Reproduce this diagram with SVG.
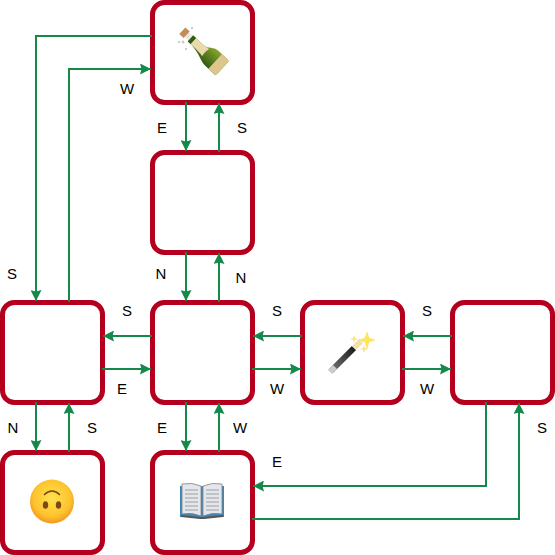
<svg xmlns="http://www.w3.org/2000/svg" width="555" height="555" viewBox="0 0 555 555">
<defs>
<marker id="arr" markerUnits="userSpaceOnUse" markerWidth="12" markerHeight="11" refX="11" refY="5.500" orient="auto" viewBox="0 0 12 11"><path d="M0 0L11 5.500L0 11L1.500 5.500Z" fill="#15884a"/></marker>
<radialGradient id="face" cx="0.5" cy="0.42" r="0.6"><stop offset="0" stop-color="#ffe14d"/><stop offset="0.7" stop-color="#fdc32e"/><stop offset="1" stop-color="#f0921a"/></radialGradient>
<linearGradient id="wand" x1="0" y1="1" x2="1" y2="0"><stop offset="0" stop-color="#777"/><stop offset="1" stop-color="#1c1c1c"/></linearGradient>
<linearGradient id="glass" x1="0" y1="0" x2="0" y2="1"><stop offset="0" stop-color="#8aa62c"/><stop offset="1" stop-color="#2f5a14"/></linearGradient>
</defs>
<style>
.n{fill:#fff;stroke:#b4001e;stroke-width:5}
.e{fill:none;stroke:#15884a;stroke-width:2;marker-end:url(#arr)}
text{font-family:"Liberation Sans",Arial,sans-serif;font-size:15px;fill:#000;text-anchor:middle}
</style>
<g id="node-bottle"><rect class="n" x="152.500" y="2.500" width="100" height="100" rx="12"/>
<g transform="translate(203.500 50.500) rotate(43)">
<path d="M-17-4H-3C2-4 5-10 11-10H24Q26-10 26-7V7Q26 10 24 10H11C5 10-2 4-17 4Z" fill="url(#glass)"/>
<path d="M-14-4H-3L3-5C2 -1 2 3 3 5C0 4-6 4-14 4Z" fill="#ead9ad"/>
<path d="M16-10H24Q26-10 26-7V7Q26 10 24 10H16Z" fill="#dcc68c"/>
<path d="M-18-4H-14V4H-18Z" fill="#2f5a14"/>
<path d="M-23-3H-18V3H-23Z" fill="#e8e8e0"/>
<path d="M-29-4.500H-23V4.500H-29Z" fill="#c48d58"/>
</g>
<circle cx="179" cy="42" r="1" fill="#bbb"/><circle cx="192" cy="28" r="1" fill="#bbb"/><circle cx="186" cy="49" r="1" fill="#bbb"/><circle cx="183" cy="42" r="1.500" fill="#ccc"/></g>
<g id="node-empty-1"><rect class="n" x="152.500" y="152.500" width="100" height="100" rx="12"/></g>
<g id="node-left"><rect class="n" x="2.500" y="302.500" width="100" height="100" rx="12"/></g>
<g id="node-center"><rect class="n" x="152.500" y="302.500" width="100" height="100" rx="12"/></g>
<g id="node-wand"><rect class="n" x="302.500" y="302.500" width="100" height="100" rx="12"/>
<path d="M331 371L354 348" stroke="url(#wand)" stroke-width="6" fill="none"/>
<path d="M330 372L335 367" stroke="#ccc" stroke-width="6" fill="none"/>
<path d="M354 348L361 341" stroke="#f2dfae" stroke-width="6" fill="none"/>
<path d="M367 332L369 338L375 340L369 342L367 349L365 342L359 340L365 338Z" fill="#ffe74d" stroke="#f1d98a" stroke-width=".5"/>
<path d="M354 335L355 338L358 339L355 340L354 343L353 340L350 339L353 338Z" fill="#fbe38a"/>
<path d="M364 345L365 348L368 349L365 350L364 353L363 350L360 349L363 348Z" fill="#fbe38a"/>
</g>
<g id="node-right"><rect class="n" x="452.500" y="302.500" width="100" height="100" rx="12"/></g>
<g id="node-smile"><rect class="n" x="2.500" y="452.500" width="100" height="100" rx="12"/>
<circle cx="52" cy="501.500" r="22" fill="url(#face)"/>
<ellipse cx="45.500" cy="505" rx="2.700" ry="3.800" fill="#7a4a12"/><ellipse cx="58.500" cy="505" rx="2.700" ry="3.800" fill="#7a4a12"/>
<path d="M44 495Q52 487 60 495" fill="none" stroke="#7a4a12" stroke-width="1.500"/></g>
<g id="node-book"><rect class="n" x="152.500" y="452.500" width="100" height="100" rx="12"/>
<path d="M180 486H224V517H206L202 519L198 517H180Z" fill="#3f86b8"/>
<path d="M182 484Q192 482 201 486V516Q192 512 182 514Z" fill="#e4e6ea" stroke="#7d8289" stroke-width=".8"/>
<path d="M222 484Q212 482 203 486V516Q212 512 222 514Z" fill="#e4e6ea" stroke="#7d8289" stroke-width=".8"/>
<path d="M185 490H198M185 494H198M185 498H198M185 502H198M185 506H198M185 510H198M206 490H219M206 494H219M206 498H219M206 502H219M206 506H219M206 510H219" stroke="#9a9ea4" stroke-width="1"/>
<path d="M181 516L200 518H204L223 516" fill="none" stroke="#555" stroke-width="2"/></g>
<g id="connectors">
<path class="e" d="M186 102V151"/><path class="e" d="M219 152V103"/>
<path class="e" d="M186 252V301"/><path class="e" d="M219 302V253"/>
<path class="e" d="M152 36H36V301"/><path class="e" d="M69 302V69H151"/>
<path class="e" d="M152 336H103"/><path class="e" d="M102 369H151"/>
<path class="e" d="M36 402V451"/><path class="e" d="M69 452V403"/>
<path class="e" d="M186 402V451"/><path class="e" d="M219 452V403"/>
<path class="e" d="M302 336H253"/><path class="e" d="M252 369H301"/>
<path class="e" d="M452 336H403"/><path class="e" d="M402 369H451"/>
<path class="e" d="M486 402V486H253"/><path class="e" d="M252 519H519V403"/>
<text x="162" y="132.500">E</text><text x="242" y="132.500">S</text>
<text x="127" y="93.500">W</text><text x="12" y="278.500">S</text>
<text x="161" y="278.500">N</text><text x="241" y="282.500">N</text>
<text x="127" y="315.500">S</text><text x="122" y="393.500">E</text>
<text x="277" y="315.500">S</text><text x="277" y="393.500">W</text>
<text x="427" y="315.500">S</text><text x="427" y="393.500">W</text>
<text x="13" y="432.500">N</text><text x="92" y="432.500">S</text>
<text x="162" y="432.500">E</text><text x="240" y="432.500">W</text>
<text x="277" y="466.500">E</text><text x="542" y="432.500">S</text>
</g>
</svg>
